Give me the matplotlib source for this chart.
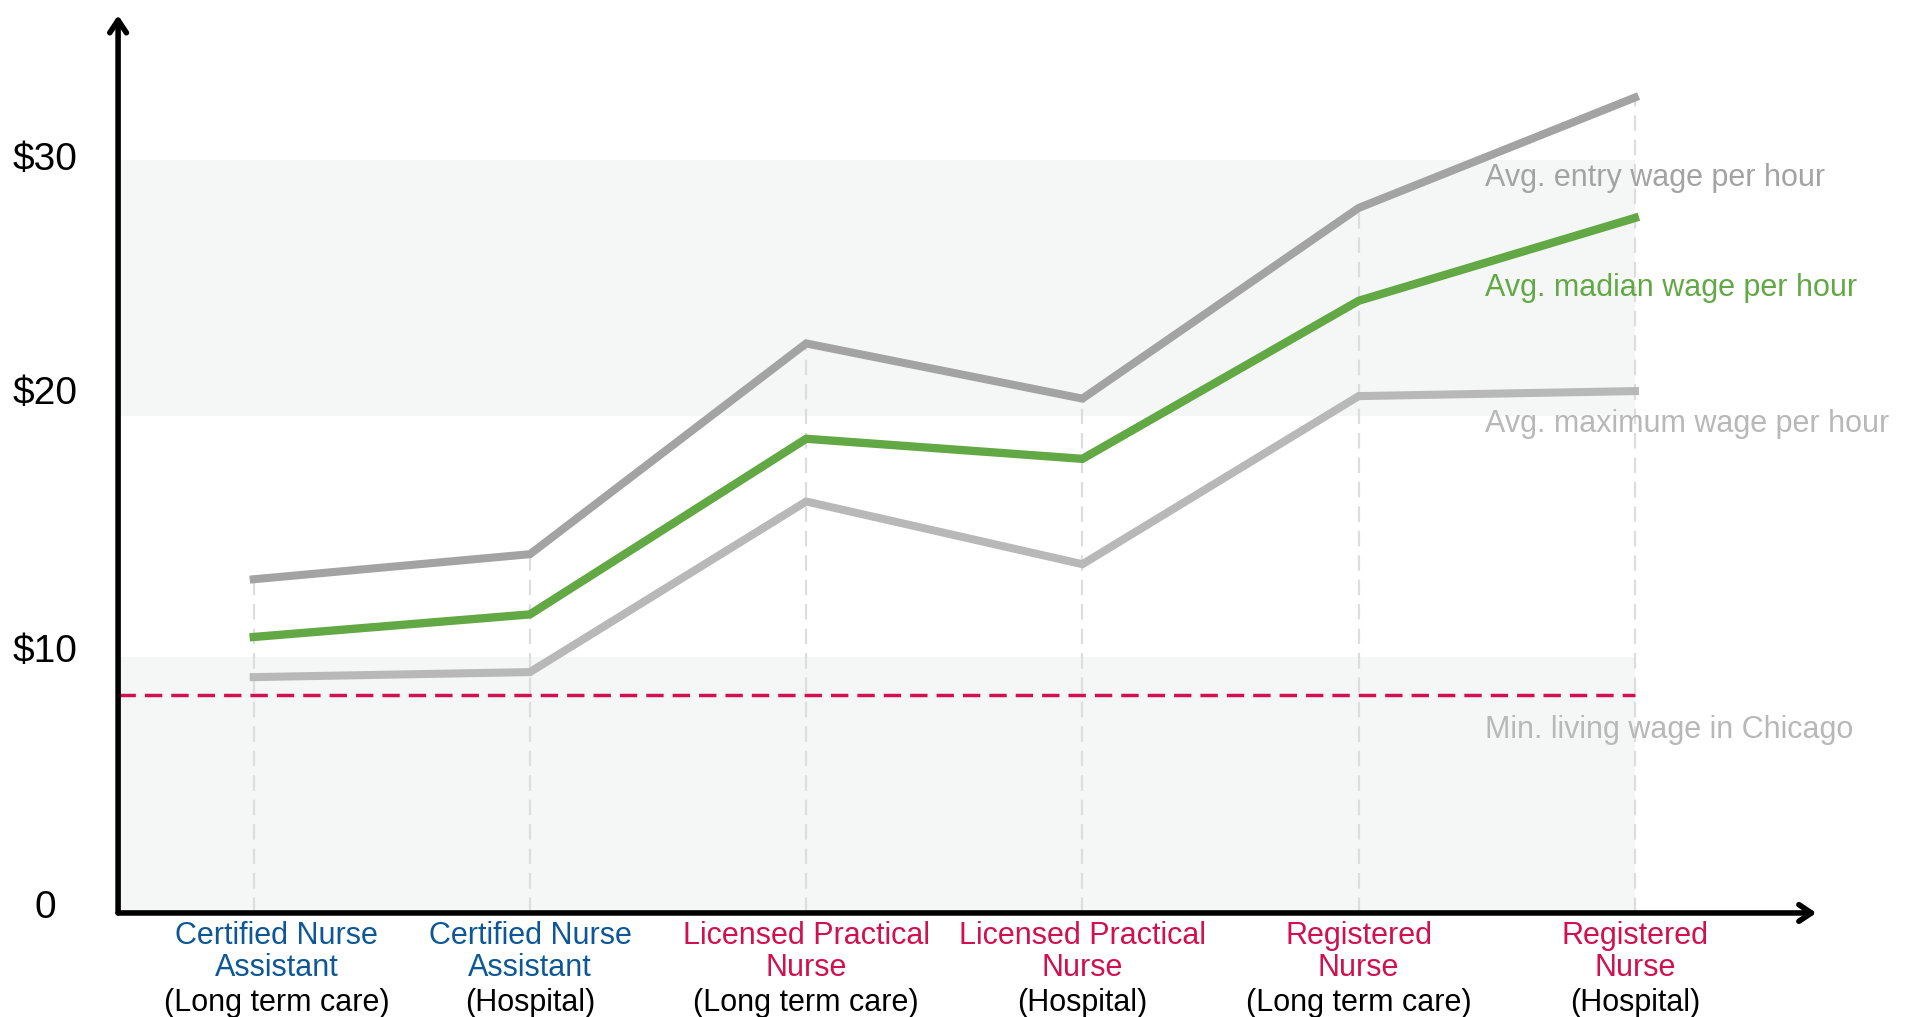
import matplotlib
matplotlib.use("Agg")
import matplotlib.pyplot as plt

plt.rcParams['font.family'] = ['Liberation Sans', 'DejaVu Sans']

# Chart data
categories_top = ["Certified Nurse\nAssistant", "Certified Nurse\nAssistant",
                  "Licensed Practical\nNurse", "Licensed Practical\nNurse",
                  "Registered\nNurse", "Registered\nNurse"]
categories_sub = ["(Long term care)", "(Hospital)", "(Long term care)", "(Hospital)",
                  "(Long term care)", "(Hospital)"]
category_colors = ["#0d5796", "#0d5796", "#d0104f", "#d0104f", "#d0104f", "#d0104f"]
# first label is nudged right in the original, clear of the y axis
label_shift_px = [23, 0, 0, 0, 0, 0]

entry_wage = [13.3, 14.3, 22.7, 20.5, 28.1, 32.5]
median_wage = [11.0, 11.9, 18.9, 18.1, 24.4, 27.7]
maximum_wage = [9.4, 9.6, 16.4, 13.9, 20.6, 20.8]
living_wage = 8.7

band_ranges = [(0, 10.2), (19.8, 30)]
ytick_values = [0.2, 10.4, 20.7, 30.0]
ytick_labels = ["0", "$10", "$20", "$30"]

series_labels = ["Avg. entry wage per hour", "Avg. madian wage per hour",
                 "Avg. maximum wage per hour", "Min. living wage in Chicago"]
series_label_y = [29.3, 24.9, 19.5, 7.3]

GRAY_DARK = "#a3a3a3"
GRAY_LIGHT = "#b8b8b8"
GREEN = "#62a844"
CRIMSON = "#d0104f"

fig = plt.figure(figsize=(19.14, 10.17), dpi=100)
ax = fig.add_axes([0.0617, 0.1023, 0.949 - 0.0617, 0.985 - 0.1023])
x = list(range(len(entry_wage)))
ax.set_xlim(-0.491, 5.657)
ax.set_ylim(0, 35.78)
for s in ax.spines.values():
    s.set_visible(False)
ax.set_xticks([])
ax.set_yticks([])

# background bands
for lo, hi in band_ranges:
    ax.fill_between([-0.491, x[-1]], lo, hi, color="#f5f7f6", lw=0, zorder=0)

# vertical dashed guides
for xi, top in zip(x, entry_wage):
    ax.plot([xi, xi], [0, top], color="#dddddd", lw=1.6, dashes=(7, 4), zorder=1)

# living wage
ax.plot([-0.491, x[-1]], [living_wage, living_wage], color=CRIMSON, lw=2.5,
        dashes=(5, 2.6), zorder=2)

# wage lines
ax.plot(x, maximum_wage, color=GRAY_LIGHT, lw=5.8, solid_joinstyle='miter', zorder=3)
ax.plot(x, entry_wage, color=GRAY_DARK, lw=5.8, solid_joinstyle='miter', zorder=3)
ax.plot(x, median_wage, color=GREEN, lw=6, solid_joinstyle='miter', zorder=4)

# series labels
label_colors = [GRAY_DARK, GREEN, GRAY_LIGHT, GRAY_LIGHT]
for txt, ly, c in zip(series_labels, series_label_y, label_colors):
    ax.text(4.457, ly, txt, color=c, fontsize=22, va='center', ha='left', zorder=5)

# axes with arrows
arrow = dict(arrowstyle='->,head_length=0.9,head_width=0.6', lw=4, color='black',
             shrinkA=0, shrinkB=0)
ax.annotate('', xy=(1, 0), xytext=(0, 0), xycoords='axes fraction', arrowprops=arrow,
            zorder=6, annotation_clip=False)
ax.annotate('', xy=(0, 1), xytext=(0, 0), xycoords='axes fraction', arrowprops=arrow,
            zorder=6, annotation_clip=False)

# y labels
for v, lab in zip(ytick_values, ytick_labels):
    ax.annotate(lab, xy=(0, v), xycoords=('axes fraction', 'data'), xytext=(-73, 0),
                textcoords='offset pixels', ha='center', va='center', fontsize=28,
                annotation_clip=False)

# x labels
for xi, top, sub, c, dx in zip(x, categories_top, categories_sub, category_colors,
                               label_shift_px):
    ax.annotate(top, xy=(xi, 0), xytext=(dx, -39), textcoords='offset pixels',
                ha='center', va='center', fontsize=22, color=c, linespacing=1.08,
                annotation_clip=False)
    ax.annotate(sub, xy=(xi, 0), xytext=(dx, -90), textcoords='offset pixels',
                ha='center', va='center', fontsize=22, color='black',
                annotation_clip=False)

plt.savefig("out.png", dpi=100)
